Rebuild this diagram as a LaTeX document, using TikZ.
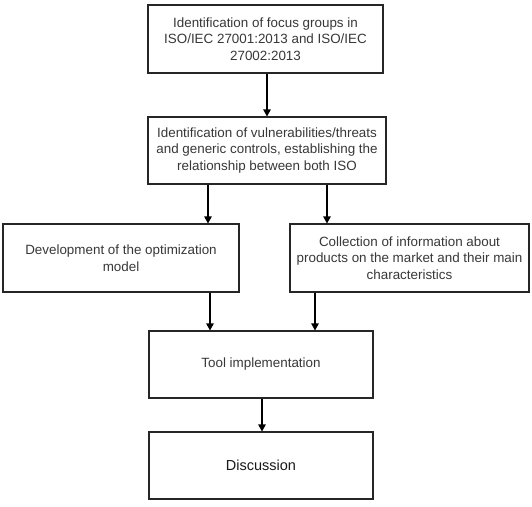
\documentclass[tikz,border=0pt]{standalone}
\usepackage{fontspec}
\setmainfont{Liberation Sans}
\usetikzlibrary{arrows.meta}
\begin{document}
\begin{tikzpicture}[x=1pt,y=-1pt,
  box/.style={draw=black!85, line width=1.1pt, rectangle, inner sep=0pt, align=center,
    font=\fontsize{13.4}{16.7}\selectfont, text=black!78},
  arr/.style={draw=black, line width=1.1pt, -{Triangle[width=7.5pt,length=7pt]}}]
\useasboundingbox[fill=white] (0,0) rectangle (532,506);
\node[box, minimum width=235pt, minimum height=68pt] (b1) at (265.5,39)
  {Identification of focus groups in\\ISO/IEC 27001:2013 and ISO/IEC\\27002:2013};
\node[box, minimum width=238pt, minimum height=67pt] (b2) at (267,150.5)
  {Identification of vulnerabilities/threats\\and generic controls, establishing the\\relationship between both ISO};
\node[box, minimum width=236pt, minimum height=68pt] (b3) at (121,258)
  {Development of the optimization\\model};
\node[box, minimum width=239pt, minimum height=68pt] (b4) at (409.5,258)
  {Collection of information about\\products on the market and their main\\characteristics};
\node[box, minimum width=224pt, minimum height=67pt] (b5) at (261,364.5)
  {Tool implementation};
\node[box, minimum width=224pt, minimum height=67pt, font=\fontsize{14.5}{17}\selectfont, text=black!90] (b6) at (261,465.5)
  {Discussion};
\coordinate (x1) at (267,0);
\coordinate (x2) at (208,0);
\coordinate (x3) at (327,0);
\coordinate (x4) at (210,0);
\coordinate (x5) at (315,0);
\coordinate (x6) at (262,0);
\draw[arr] (b1.south -| x1) -- (b2.north -| x1);
\draw[arr] (b2.south -| x2) -- (b3.north -| x2);
\draw[arr] (b2.south -| x3) -- (b4.north -| x3);
\draw[arr] (b3.south -| x4) -- (b5.north -| x4);
\draw[arr] (b4.south -| x5) -- (b5.north -| x5);
\draw[arr] (b5.south -| x6) -- (b6.north -| x6);
\end{tikzpicture}
\end{document}
